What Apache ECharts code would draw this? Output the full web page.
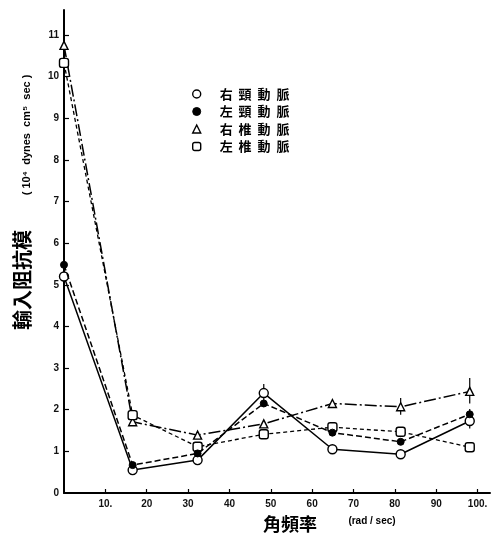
<!DOCTYPE html>
<html>
<head>
<meta charset="utf-8">
<script src="https://cdn.jsdelivr.net/npm/echarts@6/dist/echarts.min.js"></script>
<style>
  html, body { margin: 0; padding: 0; background: #fff; }
  #chart { width: 500px; height: 542px; }
</style>
</head>
<body>
<div id="chart"></div>
<script>
// Angular frequency of each harmonic (rad/sec)
const freq = [0, 16.6, 32.3, 48.3, 64.9, 81.4, 98.1];

// Input impedance modulus, 10^4 dynes cm^-5 sec
const rightCarotid   = [5.2, 0.55, 0.79, 2.40, 1.05, 0.93, 1.73];
const leftCarotid    = [5.48, 0.67, 0.95, 2.15, 1.45, 1.23, 1.89];
const rightVertebral = [10.75, 1.71, 1.39, 1.66, 2.15, 2.07, 2.44];
const leftVertebral  = [10.33, 1.87, 1.11, 1.41, 1.58, 1.47, 1.10];

// Vertical spread bars: [frequency, low, high]
const errorBars = [
  [48.3, 2.22, 2.62],
  [81.4, 1.88, 2.28],
  [98.1, 2.15, 2.76],
  [98.1, 1.55, 2.02]
];

const seriesNames = ['右  頸  動  脈', '左  頸  動  脈', '右  椎  動  脈', '左  椎  動  脈'];
const xTicks = [10, 20, 30, 40, 50, 60, 70, 80, 90, 100];
const xTickLabels = { 10: '10.', 100: '100.' };
const yTicks = [0, 1, 2, 3, 4, 5, 6, 7, 8, 9, 10, 11];

const pairs = (ys) => freq.map((x, i) => [x, ys[i]]);

const openStyle = { color: '#fff', borderColor: '#000', borderWidth: 1.4 };
const fillStyle = { color: '#000', borderColor: '#000', borderWidth: 1 };
const labelFont = { color: '#111', fontSize: 10, fontWeight: 'bold', fontFamily: 'Liberation Sans, DejaVu Sans, sans-serif' };
const cjk = '"Noto Sans CJK TC", "Noto Sans CJK JP", sans-serif';

const chart = echarts.init(document.getElementById('chart'), null, { renderer: 'canvas' });
chart.setOption({
  animation: false,
  backgroundColor: '#fff',
  grid: { left: 64, right: 10, top: 10, bottom: 49, containLabel: false },
  xAxis: {
    type: 'value', min: 0, max: 103,
    axisLine: { lineStyle: { color: '#000', width: 2 } },
    axisTick: { inside: true, length: 4, lineStyle: { color: '#000', width: 1.2 }, customValues: xTicks },
    axisLabel: Object.assign({ margin: 6, customValues: xTicks, formatter: v => xTickLabels[v] || String(v) }, labelFont),
    splitLine: { show: false }
  },
  yAxis: {
    type: 'value', min: 0, max: 11.6,
    axisLine: { show: true, lineStyle: { color: '#000', width: 2 } },
    axisTick: { show: true, inside: true, length: 5, lineStyle: { color: '#000', width: 1.2 }, customValues: yTicks.slice(1) },
    axisLabel: Object.assign({ margin: 5, customValues: yTicks }, labelFont),
    splitLine: { show: false }
  },
  legend: {
    orient: 'vertical',
    left: 187, top: 82,
    itemWidth: 8, itemHeight: 8, itemGap: 3.5,
    textStyle: { fontFamily: cjk, fontSize: 13, fontWeight: 'bold', color: '#000', lineHeight: 14, padding: [0, 0, 0, 14] },
    data: [
      { name: seriesNames[0], icon: 'circle', itemStyle: openStyle },
      { name: seriesNames[1], icon: 'circle', itemStyle: fillStyle },
      { name: seriesNames[2], icon: 'triangle', itemStyle: openStyle },
      { name: seriesNames[3], icon: 'roundRect', itemStyle: openStyle }
    ]
  },
  graphic: [
    {
      type: 'text', x: 22, y: 280, rotation: Math.PI / 2,
      style: { text: '輸入阻抗模', font: 'bold 20px ' + cjk, fill: '#000', textAlign: 'center', textVerticalAlign: 'middle' }
    },
    {
      type: 'text', x: 27, y: 135, rotation: Math.PI / 2,
      style: { text: '( 10⁴  dynes  cm⁵  sec )', font: 'bold 11px "Liberation Sans", sans-serif', fill: '#000', textAlign: 'center', textVerticalAlign: 'middle' }
    },
    {
      type: 'text', x: 290, y: 524,
      style: { text: '角頻率', font: 'bold 18px ' + cjk, fill: '#000', textAlign: 'center', textVerticalAlign: 'middle' }
    },
    {
      type: 'text', x: 372, y: 521,
      style: { text: '(rad / sec)', font: 'bold 10px "Liberation Sans", sans-serif', fill: '#000', textAlign: 'center', textVerticalAlign: 'middle' }
    }
  ],
  series: [
    {
      name: seriesNames[0], type: 'line', data: pairs(rightCarotid),
      symbol: 'circle', symbolSize: 9, itemStyle: openStyle,
      lineStyle: { color: '#000', width: 1.5, type: 'solid' }, z: 4
    },
    {
      name: seriesNames[1], type: 'line', data: pairs(leftCarotid),
      symbol: 'circle', symbolSize: 7, itemStyle: fillStyle,
      lineStyle: { color: '#000', width: 1.5, type: [6, 3] }, z: 5
    },
    {
      name: seriesNames[2], type: 'line', data: pairs(rightVertebral),
      symbol: 'triangle', symbolSize: 8, itemStyle: openStyle,
      lineStyle: { color: '#000', width: 1.5, type: [12, 3, 2, 3] }, z: 3
    },
    {
      name: seriesNames[3], type: 'line', data: pairs(leftVertebral),
      symbol: 'roundRect', symbolSize: 9, itemStyle: openStyle,
      lineStyle: { color: '#000', width: 1.3, type: [4, 3] }, z: 3
    },
    {
      type: 'custom', data: errorBars, encode: { x: 0, y: [1, 2] }, z: 2,
      renderItem: (params, api) => {
        const hi = api.coord([api.value(0), api.value(2)]);
        const lo = api.coord([api.value(0), api.value(1)]);
        return { type: 'line', shape: { x1: hi[0], y1: hi[1], x2: lo[0], y2: lo[1] }, style: { stroke: '#000', lineWidth: 1.2 } };
      }
    }
  ]
});
</script>
</body>
</html>
